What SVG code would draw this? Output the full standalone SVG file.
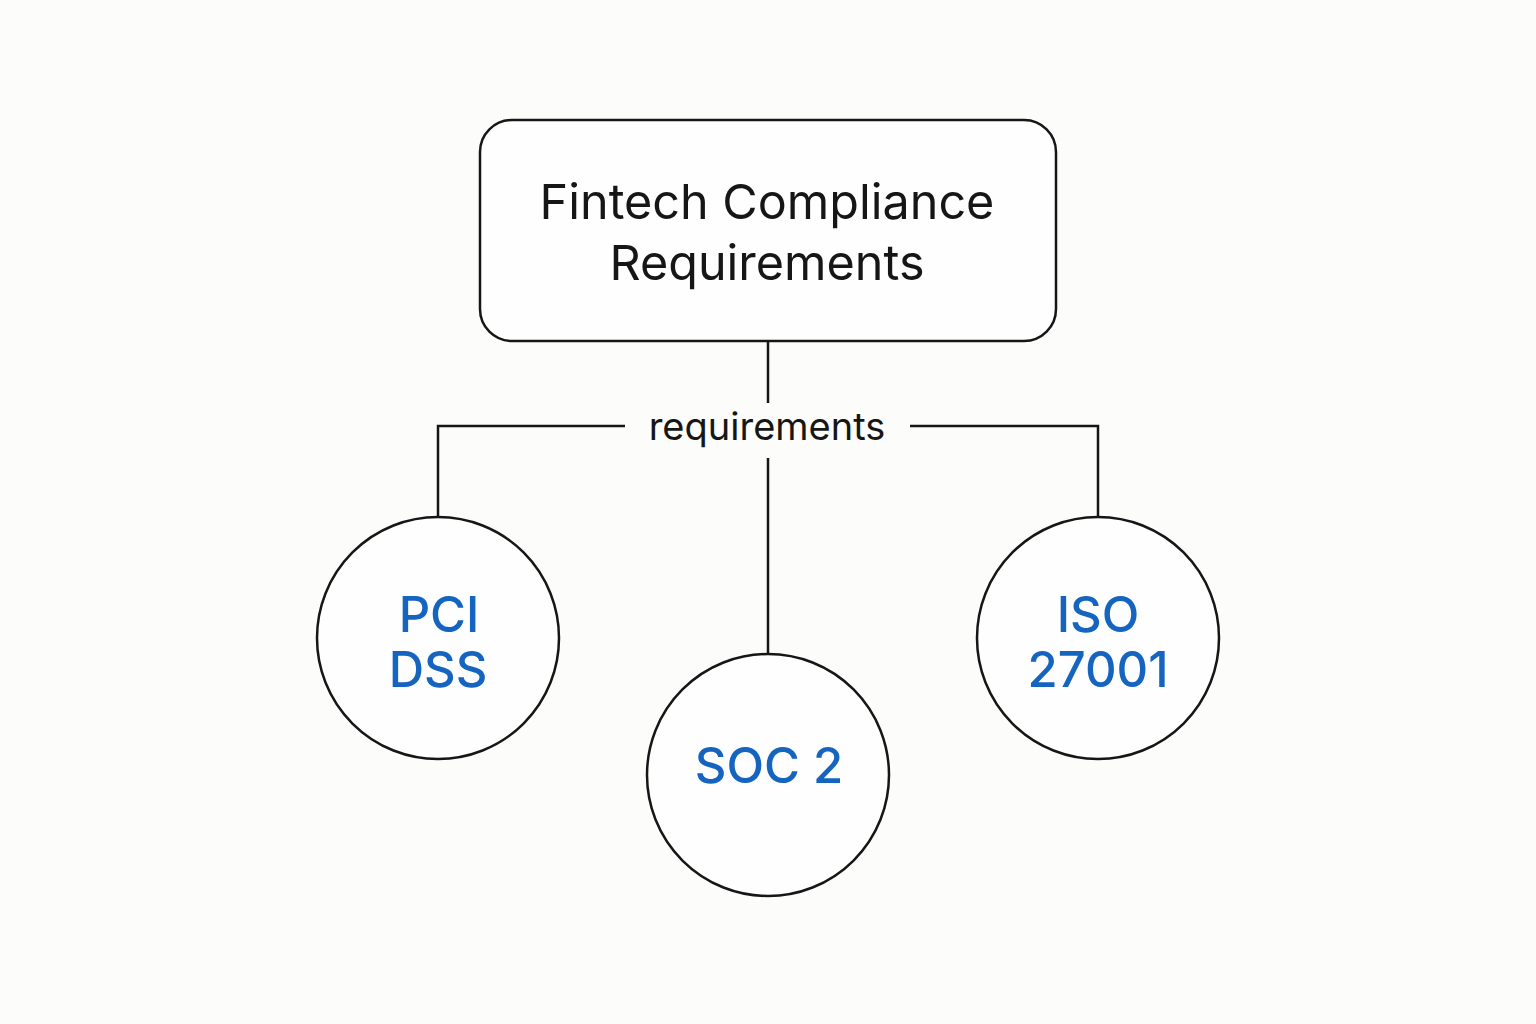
<svg xmlns="http://www.w3.org/2000/svg" width="1536" height="1024" viewBox="0 0 1536 1024">
<style>
.shape{fill:#fefefe;stroke:#161616;stroke-width:2.5}
.conn{fill:none;stroke:#161616;stroke-width:2.5}
.title{font-family:Inter,"Liberation Sans",sans-serif;font-size:48.5px;fill:#161616;text-anchor:middle}
.lbl{font-family:Inter,"Liberation Sans",sans-serif;font-size:38px;fill:#161616;text-anchor:middle}
.std{font-family:Inter,"Liberation Sans",sans-serif;font-size:49px;font-weight:500;fill:#1565c0;text-anchor:middle}
</style>
<rect width="1536" height="1024" fill="#fcfcfa"/>
<g id="connectors">
<line class="conn" x1="768" y1="341" x2="768" y2="403"/>
<polyline class="conn" points="625,426 438,426 438,517"/>
<polyline class="conn" points="910,426 1098,426 1098,517"/>
<line class="conn" x1="768" y1="458" x2="768" y2="655"/>
<text class="lbl" x="767" y="440">requirements</text>
</g>
<g id="root">
<rect class="shape" x="480" y="120" width="576" height="221" rx="32"/>
<text class="title" x="767" y="219">Fintech Compliance</text>
<text class="title" x="767" y="280">Requirements</text>
</g>
<g id="pci">
<circle class="shape" cx="438" cy="638" r="121"/>
<text class="std" x="439" y="632">PCI</text>
<text class="std" x="438" y="687">DSS</text>
</g>
<g id="soc2">
<circle class="shape" cx="768" cy="775" r="121"/>
<text class="std" x="769" y="783">SOC 2</text>
</g>
<g id="iso">
<circle class="shape" cx="1098" cy="638" r="121"/>
<text class="std" x="1098" y="632">ISO</text>
<text class="std" x="1098" y="687">27001</text>
</g>
</svg>
